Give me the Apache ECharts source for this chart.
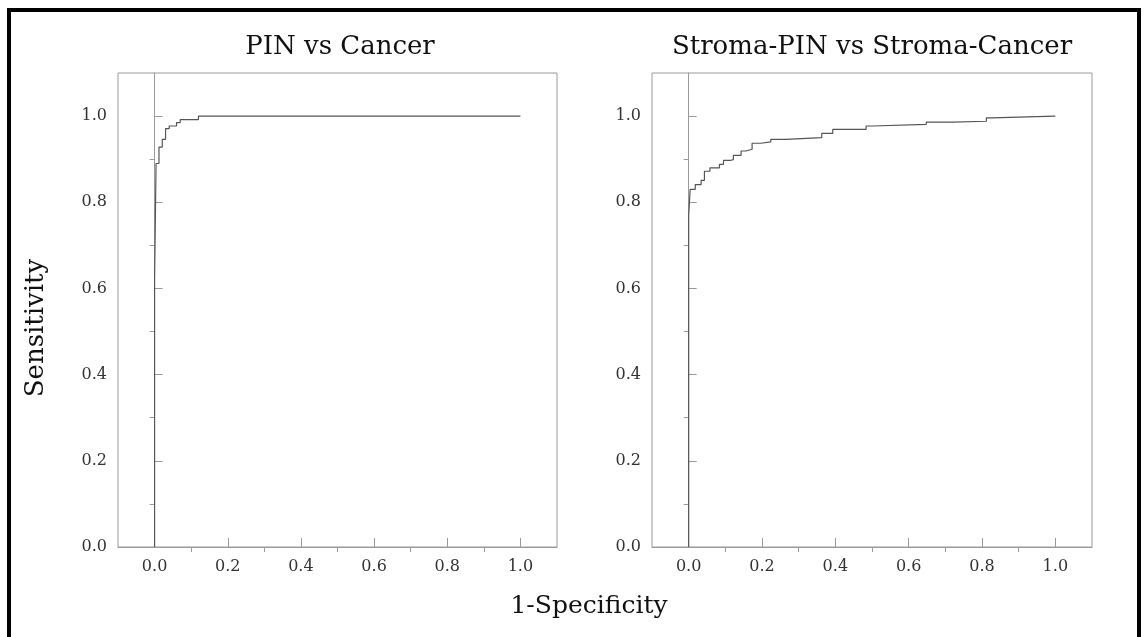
<!DOCTYPE html>
<html><head><meta charset="utf-8">
<script src="https://cdn.jsdelivr.net/npm/echarts@6/dist/echarts.min.js"></script>
<style>html,body{margin:0;padding:0;background:#fff}#c{width:1145px;height:637px}</style>
</head><body><div id="c"></div>
<script>
const titles = ['PIN vs Cancer', 'Stroma-PIN vs Stroma-Cancer'];
const xName = '1-Specificity';
const yName = 'Sensitivity';
const majorTicks = [0, 0.2, 0.4, 0.6, 0.8, 1.0];
const minorTicks = [0.1, 0.3, 0.5, 0.7, 0.9];
// ROC corner points: [1-specificity, sensitivity] (step drawn horizontal then vertical)
const pinFpr  = [0, 0, 0.004, 0.012, 0.021, 0.030, 0.040, 0.060, 0.070, 0.120, 1.0];
const pinTpr  = [0, 0.62, 0.89, 0.928, 0.946, 0.971, 0.977, 0.985, 0.992, 1.0, 1.0];
const stromaFpr = [0, 0, 0.004, 0.018, 0.034, 0.043, 0.058, 0.084, 0.095, 0.113, 0.122, 0.143, 0.156, 0.173, 0.197, 0.224, 0.265, 0.363, 0.393, 0.484, 0.502, 0.648, 0.721, 0.812, 0.826, 1.0];
const stromaTpr = [0, 0.768, 0.83, 0.841, 0.851, 0.872, 0.880, 0.888, 0.897, 0.899, 0.909, 0.919, 0.923, 0.937, 0.940, 0.946, 0.950, 0.960, 0.969, 0.977, 0.981, 0.986, 0.988, 0.996, 1.0, 1.0];

const FONT = 'DejaVu Serif';
const AX = '#9a9a9a';
const grids = [
  {left: 118, top: 73, width: 439, height: 474},
  {left: 652, top: 73, width: 440, height: 474}
];
const fmt = v => Number(v).toFixed(1);
const xAxes = [], yAxes = [];
grids.forEach((g, i) => {
  xAxes.push({
    gridIndex: i, type: 'value', min: -0.1, max: 1.1,
    axisLine: {show: true, lineStyle: {color: AX, width: 1}},
    axisTick: {show: true, inside: true, length: 9, customValues: majorTicks, lineStyle: {color: AX}},
    axisLabel: {show: true, customValues: majorTicks, formatter: fmt, fontFamily: FONT, fontSize: 16, color: '#333', margin: 12},
    splitLine: {show: false}
  });
  xAxes.push({
    gridIndex: i, type: 'value', min: -0.1, max: 1.1,
    axisLine: {show: false},
    axisTick: {show: true, inside: true, length: 5, customValues: minorTicks, lineStyle: {color: AX}},
    axisLabel: {show: false}, splitLine: {show: false}
  });
  yAxes.push({
    gridIndex: i, type: 'value', min: 0, max: 1.1,
    axisLine: {show: true, lineStyle: {color: AX, width: 1}},
    axisTick: {show: true, inside: true, length: 8, customValues: majorTicks, lineStyle: {color: AX}},
    axisLabel: {show: true, customValues: majorTicks, formatter: fmt, fontFamily: FONT, fontSize: 16, color: '#333', margin: 11},
    splitLine: {show: false}
  });
  yAxes.push({
    gridIndex: i, type: 'value', min: 0, max: 1.1,
    axisLine: {show: false},
    axisTick: {show: true, inside: true, length: 5, customValues: minorTicks, lineStyle: {color: AX}},
    axisLabel: {show: false}, splitLine: {show: false}
  });
});
const zip = (a, b) => a.map((v, k) => [v, b[k]]);
const series = [
  {type: 'line', xAxisIndex: 0, yAxisIndex: 0, data: zip(pinFpr, pinTpr), step: 'end', showSymbol: false, symbol: 'none',
   lineStyle: {color: '#555', width: 1.2}, animation: false},
  {type: 'line', xAxisIndex: 2, yAxisIndex: 2, data: zip(stromaFpr, stromaTpr), step: 'end', showSymbol: false, symbol: 'none',
   lineStyle: {color: '#555', width: 1.2}, animation: false}
];
const chart = echarts.init(document.getElementById('c'), null, {renderer: 'canvas'});
chart.setOption({
  backgroundColor: '#fff',
  animation: false,
  grid: grids.map(g => Object.assign({show: true, borderColor: AX, borderWidth: 1, containLabel: false}, g)),
  xAxis: xAxes,
  yAxis: yAxes,
  series: series,
  graphic: [
    {type: 'rect', shape: {x: 9, y: 10, width: 1130, height: 700}, style: {fill: 'none', stroke: '#000', lineWidth: 4}, silent: true},
    {type: 'text', x: 340, y: 47, style: {text: titles[0], font: '26px "' + FONT + '"', fill: '#111', align: 'center', verticalAlign: 'middle'}},
    {type: 'text', x: 872, y: 47, style: {text: titles[1], font: '26px "' + FONT + '"', fill: '#111', align: 'center', verticalAlign: 'middle'}},
    {type: 'text', x: 589, y: 606, style: {text: xName, font: '25px "' + FONT + '"', fill: '#111', align: 'center', verticalAlign: 'middle'}},
    {type: 'text', x: 36, y: 328, rotation: Math.PI / 2, style: {text: yName, font: '26px "' + FONT + '"', fill: '#111', align: 'center', verticalAlign: 'middle'}}
  ]
});
</script></body></html>
